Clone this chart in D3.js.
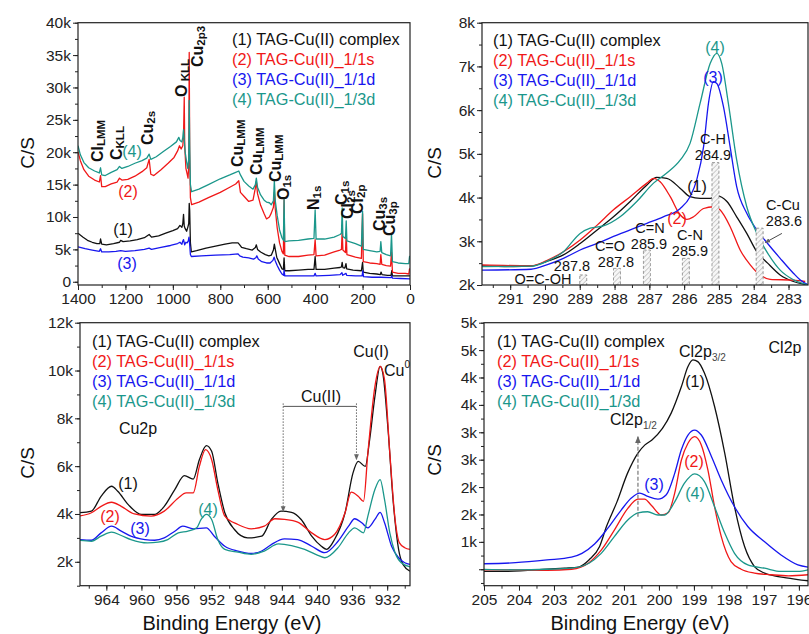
<!DOCTYPE html>
<html>
<head>
<meta charset="utf-8">
<script src="https://cdn.jsdelivr.net/npm/d3@7"></script>
<style>
  body { margin: 0; background: #fff; }
  svg text { font-family: "Liberation Sans", Arial, sans-serif; }
  .tick text { font-size: 15.5px; fill: #222; }
  .tick line, .frame { stroke: #222; }
</style>
</head>
<body>
<div id="wrapper"></div>
<script>
// ---- data: [binding energy (eV), counts per second] ----
const seriesNames = ["(1) TAG-Cu(II) complex", "(2) TAG-Cu(II)_1/1s", "(3) TAG-Cu(II)_1/1d", "(4) TAG-Cu(II)_1/3d"]
const seriesColors = ["#111111", "#f01818", "#1717ee", "#1b978b"]

const survey1 = [[1400,7500],[1380,6900],[1360,6400],[1340,6100],[1320,5900],[1308,5900],[1305,6600],[1300,5800],[1280,5700],[1250,5900],[1225,6100],[1220,6400],[1210,6200],[1180,6300],[1150,6500],[1120,6800],[1100,7300],[1090,6900],[1060,7100],[1030,7500],[1000,7900],[980,8200],[970,8700],[962,8400],[958,9000],[955,10400],[952,8600],[948,8200],[942,7800],[937,8400],[933,9000],[931,12100],[929,11000],[926,6000],[922,4600],[900,4800],[860,5200],[820,5500],[780,5800],[750,6000],[725,6000],[718,5700],[710,5300],[690,5100],[665,4900],[652,5300],[648,5700],[643,5000],[630,4600],[610,4200],[595,4000],[585,4100],[576,4900],[572,5800],[568,5000],[562,3800],[550,2800],[540,2000],[534,1900],[531,3700],[528,1700],[510,1700],[470,1800],[430,1900],[405,1900],[400,3900],[396,1900],[360,1900],[320,2100],[295,2200],[289,2300],[286,3000],[283,2200],[275,2100],[270,2800],[267,2000],[240,1800],[205,1700],[200,3000],[197,1500],[170,1300],[140,1200],[125,1100],[122,1500],[118,1100],[95,1000],[80,1000],[77,1700],[74,900],[40,900],[10,900],[0,900]]
const survey2 = [[1400,20100],[1390,18700],[1375,17300],[1355,16300],[1330,15700],[1310,15400],[1305,16400],[1300,14700],[1285,14700],[1260,15100],[1235,15400],[1225,16000],[1215,15700],[1190,15800],[1160,16300],[1130,17000],[1110,17600],[1100,18900],[1093,16600],[1080,16400],[1050,17300],[1020,18300],[995,19200],[980,20200],[972,21000],[965,20500],[958,21000],[955,22500],[952,28500],[950,21000],[945,17500],[940,16700],[936,16000],[933,18000],[931,35400],[929,20000],[926,13000],[921,11900],[890,12300],[850,13000],[800,13800],[760,14600],[735,15100],[722,15600],[715,13800],[700,13200],[680,12400],[662,12600],[652,14500],[648,15500],[643,13600],[630,11800],[615,10500],[605,9700],[593,10000],[585,10600],[576,11500],[572,13800],[568,11200],[560,8300],[550,6000],[540,4700],[534,4300],[531,12600],[528,4100],[510,3900],[470,3900],[430,4100],[405,4200],[400,6500],[396,4000],[360,4100],[320,4600],[295,4900],[289,5000],[286,8000],[283,4900],[272,4500],[269,7500],[266,4200],[230,3800],[205,3600],[200,10500],[197,3100],[170,2900],[140,2800],[126,2700],[123,4200],[119,2700],[100,2500],[82,2400],[78,4600],[74,1500],[50,1300],[20,1300],[5,1200],[2,2000],[0,2000]]
const survey3 = [[1400,5400],[1370,5100],[1340,4900],[1310,4700],[1305,5100],[1300,4600],[1270,4600],[1240,4700],[1220,4800],[1200,4700],[1160,4800],[1120,5000],[1100,5200],[1090,5000],[1050,5300],[1010,5600],[980,5900],[970,6100],[962,5800],[958,6300],[955,6500],[950,5700],[945,6100],[940,6000],[935,6300],[932,6900],[930,6200],[926,4200],[922,3900],[880,4000],[820,4100],[760,4200],[725,4300],[718,4000],[705,3800],[680,3700],[660,3500],[650,3700],[646,4000],[640,3500],[625,3100],[605,2900],[590,2900],[578,3300],[573,3800],[568,3200],[560,2500],[550,1800],[540,1200],[533,1000],[531,1800],[528,900],[500,900],[450,900],[405,900],[400,1300],[396,900],[340,1000],[295,1100],[287,1400],[284,1000],[270,1300],[267,1000],[230,900],[202,900],[199,1700],[196,800],[160,700],[125,700],[80,650],[77,900],[74,550],[40,500],[0,450]]
const survey4 = [[1400,21000],[1390,19600],[1375,18400],[1355,17600],[1330,17100],[1310,16800],[1305,17600],[1300,16500],[1285,16400],[1260,16900],[1235,17300],[1225,17800],[1215,17500],[1190,17800],[1160,18300],[1130,18700],[1110,19100],[1100,19700],[1093,18900],[1070,19300],[1040,20100],[1010,20900],[985,21600],[975,22300],[970,21800],[962,21600],[958,22300],[955,23500],[952,22000],[948,20000],[942,18500],[937,17500],[933,19000],[931,28000],[929,21000],[926,15000],[921,13900],[890,14300],[850,15000],[800,15900],[760,16500],[735,16900],[722,17100],[715,16500],[700,15500],[680,14800],[662,14300],[652,15000],[648,16000],[643,14600],[630,13400],[615,12600],[605,12300],[593,12200],[585,11900],[576,12500],[572,15600],[568,12500],[560,10200],[550,8000],[540,6800],[534,6400],[531,12700],[528,6200],[510,6300],[470,6400],[430,6600],[405,6700],[400,11100],[396,6600],[360,6600],[320,6900],[295,7300],[289,7500],[286,11400],[283,7000],[272,6700],[269,9400],[266,6300],[230,5900],[205,5500],[200,10900],[197,5000],[170,4800],[140,4600],[126,4700],[123,6200],[119,4500],[100,4200],[82,4000],[78,7400],[74,3100],[50,2900],[20,2800],[5,2800],[2,3900],[0,3900]]

const carbon1 = [[291.86,2440],[290.9,2420],[290.4,2430],[289.95,2540],[289.47,2690],[288.99,2950],[288.5,3260],[288.03,3560],[287.55,3910],[287.07,4290],[286.79,4460],[286.5,4440],[286.11,4210],[285.83,4020],[285.54,3980],[285.25,3980],[285.06,4040],[284.77,3910],[284.49,3560],[284.2,3180],[283.91,2760],[283.6,2500],[283.24,2230],[282.86,2080],[282.43,2000]]
const carbon2 = [[291.86,2460],[290.4,2440],[289.95,2560],[289.47,2760],[288.99,3030],[288.5,3370],[288.03,3720],[287.55,4020],[287.07,4330],[286.88,4440],[286.69,4360],[286.4,4020],[286.11,3600],[285.92,3500],[285.73,3560],[285.44,3750],[285.16,3790],[284.97,3720],[284.68,3340],[284.39,2800],[284.1,2460],[283.82,2230],[283.53,2130],[282.86,2110],[282.52,2080]]
const carbon3 = [[291.86,2340],[290.4,2360],[289.95,2460],[289.47,2610],[288.99,2800],[288.5,2950],[288.03,3110],[287.55,3260],[287.07,3410],[286.6,3560],[286.11,3750],[285.83,4020],[285.64,4400],[285.44,5170],[285.3,6160],[285.16,6650],[285.06,6610],[284.87,6080],[284.68,5170],[284.49,4250],[284.2,3640],[283.91,3260],[283.6,2950],[283.24,2610],[282.86,2270],[282.67,2120],[282.43,2000]]
const carbon4 = [[291.86,2420],[290.4,2430],[289.95,2540],[289.47,2760],[288.99,3180],[288.7,3300],[288.32,3350],[287.84,3560],[287.36,3910],[286.88,4330],[286.5,4560],[286.11,4860],[285.83,5240],[285.54,6160],[285.25,7070],[285.06,7300],[284.92,7070],[284.73,6160],[284.49,4860],[284.2,3790],[283.91,3180],[283.6,2730],[283.24,2340],[282.86,2120],[282.43,2000]]
// fitted component positions (eV) and heights (C/S) in the C1s panel
const carbonPeakEnergy = [288.9, 287.93, 287.07, 285.95, 285.1, 283.83]
const carbonPeakHeight = [2230, 2380, 2800, 2610, 4800, 3300]

const copper1 = [[967.2,4050],[965.7,4120],[964.6,4740],[963.4,5160],[962.7,4950],[961.5,4390],[960.0,3980],[958.5,3980],[957.4,4320],[956.2,5020],[955.1,5600],[954.1,5460],[953.4,6270],[952.6,6860],[952.0,6620],[951.3,5300],[950.5,4050],[949.4,3350],[947.9,3000],[946.3,3070],[945.2,3770],[944.1,4120],[942.9,4070],[941.8,3770],[940.6,3070],[939.5,2650],[938.9,2520],[938.0,2930],[936.8,4050],[935.9,5710],[935.3,6200],[934.5,5990],[934.0,7100],[933.4,8910],[932.8,10170],[932.5,9890],[931.9,7520],[931.3,4460],[930.7,2520],[930.2,1890],[929.4,1610]]
const copper2 = [[967.2,3910],[965.7,4050],[964.6,4320],[963.4,4490],[962.3,4320],[960.8,4000],[958.9,3910],[957.4,4120],[955.8,4670],[954.9,4880],[954.1,4880],[953.4,5990],[952.7,6690],[952.0,6270],[951.3,5020],[950.5,3910],[949.0,3560],[947.5,3380],[946.0,3490],[944.8,3800],[943.7,3770],[942.2,3660],[940.6,3210],[939.1,2930],[938.0,3140],[936.8,4050],[936.1,4910],[935.3,4740],[934.7,4530],[934.2,6550],[933.4,9330],[932.8,10170],[932.3,9610],[931.7,6550],[931.1,3770],[930.6,2790],[930.0,2590],[929.4,2520]]
const copper3 = [[967.2,2930],[965.7,2900],[964.6,3210],[963.4,3490],[962.3,3280],[961.2,3070],[959.6,2930],[958.5,2900],[957.4,3000],[956.2,3280],[955.3,3490],[954.1,3380],[952.6,3420],[951.7,3070],[950.5,2650],[949.0,2450],[947.5,2350],[946.3,2450],[945.2,2720],[943.7,2960],[942.2,2930],[940.6,2650],[939.1,2380],[937.6,2860],[936.4,3490],[935.7,3800],[934.9,3630],[934.2,3420],[933.4,3770],[932.8,4070],[932.3,3630],[931.5,2650],[930.7,2170],[930.0,1960],[929.4,1890]]
const copper4 = [[967.2,2900],[965.7,2860],[964.6,3070],[963.4,3240],[962.3,3100],[961.2,2930],[959.3,2790],[958.1,2820],[957.0,2930],[955.8,3210],[954.7,3280],[953.7,3420],[953.2,3770],[952.6,3980],[952.0,3770],[951.3,2930],[950.5,2520],[949.0,2400],[947.5,2310],[946.0,2450],[944.4,2750],[942.9,2680],[941.4,2520],[939.9,2270],[939.1,2170],[937.6,2590],[936.4,3210],[935.7,3420],[934.7,3210],[934.2,3910],[933.4,5020],[932.8,5440],[932.3,4600],[931.7,3210],[931.1,2380],[930.4,1960],[929.4,1790]]

const chlorine1 = [[205.08,460],[204.5,460],[203.2,500],[202.7,520],[202.3,540],[202.0,670],[201.7,910],[201.5,1280],[201.2,1730],[200.9,2250],[200.6,2620],[200.4,2770],[200.2,2860],[199.9,3070],[199.65,3350],[199.36,3830],[199.17,4200],[199.03,4320],[198.89,4290],[198.7,4080],[198.41,3470],[198.12,2620],[197.84,1640],[197.55,910],[197.27,550],[196.98,430],[196.7,380],[196.3,340],[195.93,300],[195.74,290]]
const chlorine2 = [[205.08,490],[204.1,490],[203.2,480],[202.5,500],[202.0,620],[201.65,850],[201.27,1220],[200.89,1610],[200.6,1780],[200.41,1780],[200.22,1670],[199.93,1490],[199.74,1530],[199.55,1890],[199.36,2490],[199.17,2800],[198.98,2920],[198.79,2770],[198.6,2310],[198.41,1640],[198.22,1100],[197.94,640],[197.65,500],[197.27,430],[196.8,400],[196.3,380],[195.74,400]]
const chlorine3 = [[205.08,600],[204.1,620],[203.2,670],[202.5,720],[202.2,790],[201.84,960],[201.46,1250],[201.08,1580],[200.79,1800],[200.55,1890],[200.32,1830],[200.03,1780],[199.79,1860],[199.55,2250],[199.36,2680],[199.17,2950],[198.98,3040],[198.79,2950],[198.5,2560],[198.22,2130],[197.84,1640],[197.46,1280],[196.98,1000],[196.51,760],[196.03,580],[195.74,540]]
const chlorine4 = [[205.08,500],[204.1,490],[203.2,500],[202.5,520],[202.0,610],[201.65,790],[201.27,1100],[200.89,1400],[200.6,1530],[200.32,1550],[200.03,1490],[199.84,1490],[199.55,1730],[199.27,2070],[198.98,2240],[198.7,2100],[198.41,1640],[198.12,1160],[197.84,790],[197.46,580],[196.98,520],[196.51,460],[196.03,460],[195.74,490]]

// ---- tick values and labels ----
const surveyXTicks = [1400, 1200, 1000, 800, 600, 400, 200, 0]
const surveyYTicks = [0, 5000, 10000, 15000, 20000, 25000, 30000, 35000, 40000]
const surveyYLabels = ["0", "5k", "10k", "15k", "20k", "25k", "30k", "35k", "40k"]
const carbonXTicks = [291, 290, 289, 288, 287, 286, 285, 284, 283]
const carbonYTicks = [2000, 3000, 4000, 5000, 6000, 7000, 8000]
const carbonYLabels = ["2k", "3k", "4k", "5k", "6k", "7k", "8k"]
const copperXTicks = [964, 960, 956, 952, 948, 944, 940, 936, 932]
const copperYTicks = [2000, 4000, 6000, 8000, 10000, 12000]
const copperYLabels = ["2k", "4k", "6k", "8k", "10k", "12k"]
const chlorineXTicks = [205, 204, 203, 202, 201, 200, 199, 198, 197, 196]
const chlorineYTicks = [500, 1000, 1500, 2000, 2500, 3000, 3500, 4000, 4500, 5000]
const chlorineYLabels = ["", "1k", "2k", "2k", "3k", "3k", "4k", "4k", "5k", "5k"]

const width = 809
const height = 634

const svg = d3.select("#wrapper").append("svg")
    .attr("width", width)
    .attr("height", height)
const defs = svg.append("defs")

const hatch = defs.append("pattern")
    .attr("id", "hatch")
    .attr("patternUnits", "userSpaceOnUse")
    .attr("width", 3.5).attr("height", 3.5)
    .attr("patternTransform", "rotate(45)")
hatch.append("rect").attr("width", 3.5).attr("height", 3.5).attr("fill", "#f6f6f6")
hatch.append("line").attr("x1", 0).attr("y1", 0).attr("x2", 0).attr("y2", 3.5)
    .attr("stroke", "#b5b5b5").attr("stroke-width", 1.3)

defs.append("marker")
    .attr("id", "arrow")
    .attr("viewBox", "0 0 10 10")
    .attr("refX", 9).attr("refY", 5)
    .attr("markerWidth", 6).attr("markerHeight", 6)
    .attr("orient", "auto-start-reverse")
  .append("path")
    .attr("d", "M0,1 L10,5 L0,9 z")
    .attr("fill", "#666")

function drawPanel(p) {
  const x = d3.scaleLinear().domain(p.xDomain).range([p.left, p.right])
  const y = d3.scaleLinear().domain(p.yDomain).range([p.bottom, p.top])

  defs.append("clipPath").attr("id", "clip-" + p.id)
    .append("rect")
      .attr("x", p.left).attr("y", p.top)
      .attr("width", p.right - p.left).attr("height", p.bottom - p.top)

  const plot = svg.append("g").attr("clip-path", `url(#clip-${p.id})`)
  const lineGenerator = d3.line()
    .x(d => x(d[0]))
    .y(d => y(d[1]))
    .curve(p.curve)
  plot.selectAll("path.spectrum")
    .data(p.series)
    .enter().append("path")
      .attr("class", "spectrum")
      .attr("d", lineGenerator)
      .attr("fill", "none")
      .attr("stroke", (d, i) => seriesColors[i])
      .attr("stroke-width", 1.3)
      .attr("stroke-linejoin", "round")

  // minor ticks first, then labelled ones
  svg.append("g")
      .attr("transform", `translate(0,${p.bottom})`)
      .call(d3.axisBottom(x).tickValues(p.xMinor).tickSize(3).tickFormat(""))
      .call(g => g.select(".domain").remove())
  svg.append("g")
      .attr("transform", `translate(0,${p.bottom})`)
      .call(d3.axisBottom(x).tickValues(p.xTicks).tickSize(5).tickPadding(3).tickFormat(d => d))
      .call(g => g.select(".domain").remove())
  svg.append("g")
      .attr("transform", `translate(${p.left},0)`)
      .call(d3.axisLeft(y).tickValues(p.yMinor).tickSize(3).tickFormat(""))
      .call(g => g.select(".domain").remove())
  svg.append("g")
      .attr("transform", `translate(${p.left},0)`)
      .call(d3.axisLeft(y).tickValues(p.yTicks).tickSize(5).tickPadding(2)
        .tickFormat((d, i) => p.yLabels[i]))
      .call(g => g.select(".domain").remove())

  svg.append("rect")
      .attr("class", "frame")
      .attr("x", p.left).attr("y", p.top)
      .attr("width", p.right - p.left).attr("height", p.bottom - p.top)
      .attr("fill", "none")
      .attr("stroke-width", 1.2)

  svg.append("text")
      .attr("transform", `translate(${p.titleX},${p.titleY}) rotate(-90)`)
      .attr("text-anchor", "middle")
      .attr("font-size", 19)
      .attr("fill", "#111")
      .text("C/S")

  svg.append("g").selectAll("text")
    .data(seriesNames)
    .enter().append("text")
      .attr("x", p.legendX)
      .attr("y", (d, i) => p.legendY + i * 20)
      .attr("font-size", 16.3)
      .attr("fill", (d, i) => seriesColors[i])
      .text(d => d)

  return { x, y, plot }
}

function note(txt, x, y, color, size) {
  return svg.append("text")
      .attr("x", x).attr("y", y)
      .attr("text-anchor", "middle")
      .attr("font-size", size || 16)
      .attr("fill", color || "#111")
      .text(txt)
}

// ---------- survey ----------
const survey = drawPanel({
  id: "survey", left: 78, right: 410, top: 22.7, bottom: 285,
  xDomain: [1400, 0], yDomain: [-500, 40000],
  xTicks: surveyXTicks, xMinor: d3.range(0, 1401, 100),
  yTicks: surveyYTicks, yLabels: surveyYLabels, yMinor: d3.range(0, 40001, 2500),
  series: [survey1, survey2, survey3, survey4], curve: d3.curveLinear,
  titleX: 34, titleY: 153, legendX: 232, legendY: 45,
})

const surveyPeaks = [
  ["Cl", "LMM", 103, 162], ["C", "KLL", 122, 160], ["Cu", "2s", 153, 145],
  ["O", " KLL", 187, 97], ["Cu", "2p3", 203, 67],
  ["Cu", "LMM", 243, 167], ["Cu", "LMM", 262, 175], ["Cu", "LMM", 281, 182],
  ["O", "1s", 289, 200], ["N", "1s", 319, 210], ["C", "1s", 347, 205],
  ["Cl", "2s", 353, 219], ["Cl", "2p", 363, 214], ["Cu", "3s", 385, 231], ["Cu", "3p", 395, 236],
]
surveyPeaks.forEach(([main, sub, px, py]) => {
  const t = svg.append("text")
      .attr("transform", `translate(${px},${py}) rotate(-90)`)
      .attr("font-weight", "bold")
      .attr("font-size", 16)
      .attr("fill", "#111")
  t.append("tspan").text(main)
  t.append("tspan").attr("font-size", 11.5).attr("dy", 2).text(sub)
})
note("(4)", 132, 157, seriesColors[3])
note("(2)", 128, 197, seriesColors[1])
note("(1)", 123, 235, seriesColors[0])
note("(3)", 127, 269, seriesColors[2])

// ---------- C1s ----------
const carbon = drawPanel({
  id: "carbon", left: 482, right: 808, top: 22.7, bottom: 285,
  xDomain: [291.81, 282.44], yDomain: [2000, 8000],
  xTicks: carbonXTicks, xMinor: d3.range(283, 292, 0.5),
  yTicks: carbonYTicks, yLabels: carbonYLabels, yMinor: d3.range(2000, 8001, 500),
  series: [carbon1, carbon2, carbon3, carbon4], curve: d3.curveMonotoneX,
  titleX: 441, titleY: 163, legendX: 493, legendY: 46,
})
carbon.plot.selectAll("rect.component")
  .data(carbonPeakEnergy)
  .enter().append("rect")
    .attr("class", "component")
    .attr("x", d => carbon.x(d + 0.1))
    .attr("width", d => carbon.x(d - 0.1) - carbon.x(d + 0.1))
    .attr("y", (d, i) => carbon.y(carbonPeakHeight[i]))
    .attr("height", (d, i) => carbon.y(2000) - carbon.y(carbonPeakHeight[i]))
    .attr("fill", "url(#hatch)")
    .attr("stroke", "#888")
    .attr("stroke-width", 0.8)
    .attr("stroke-dasharray", "3,2")
svg.append("line")
    .attr("x1", carbon.x(283.19)).attr("y1", carbon.y(3180))
    .attr("x2", carbon.x(283.67)).attr("y2", carbon.y(2970))
    .attr("stroke", "#333").attr("stroke-width", 0.9)
    .attr("marker-end", "url(#arrow)")
const cs = 14.5
note("(4)", 715, 53, seriesColors[3], 16)
note("(3)", 713, 83, seriesColors[2], 16)
note("C-H", 713, 144, null, cs)
note("284.9", 713, 160, null, cs)
note("(1)", 697, 192)
note("(2)", 677, 224, seriesColors[1])
note("C-Cu", 783, 210, null, cs)
note("283.6", 784, 226, null, cs)
note("C=N", 650, 233, null, cs)
note("285.9", 649, 249, null, cs)
note("C-N", 690, 240, null, cs)
note("285.9", 690, 256, null, cs)
note("C=O", 610, 251, null, cs)
note("287.8", 616, 267, null, cs)
note("287.8", 572, 271, null, cs)
note("O=C-OH", 543, 284, null, cs)

// ---------- Cu2p ----------
const copper = drawPanel({
  id: "copper", left: 80, right: 410, top: 322.7, bottom: 585.7,
  xDomain: [967, 929.4], yDomain: [1000, 12000],
  xTicks: copperXTicks, xMinor: d3.range(930, 967, 2),
  yTicks: copperYTicks, yLabels: copperYLabels, yMinor: d3.range(1000, 12001, 1000),
  series: [copper1, copper2, copper3, copper4], curve: d3.curveMonotoneX,
  titleX: 34, titleY: 463, legendX: 92, legendY: 347,
})
svg.append("line")
    .attr("x1", copper.x(943.85)).attr("x2", copper.x(935.5))
    .attr("y1", copper.y(8500)).attr("y2", copper.y(8500))
    .attr("stroke", "#555").attr("stroke-width", 1)
;[[943.85, 4100], [935.5, 6270]].forEach(([e, v]) => {
  svg.append("line")
      .attr("x1", copper.x(e)).attr("x2", copper.x(e))
      .attr("y1", copper.y(8500) - 3).attr("y2", copper.y(v))
      .attr("stroke", "#666").attr("stroke-width", 1)
      .attr("stroke-dasharray", "1.5,1.5")
      .attr("marker-end", "url(#arrow)")
})
note("Cu(I)", 371, 357)
const cu0 = svg.append("text").attr("x", 384).attr("y", 376).attr("font-size", 16).attr("fill", "#111")
cu0.append("tspan").text("Cu")
cu0.append("tspan").attr("font-size", 10).attr("dy", -8).text("0")
note("Cu(II)", 321, 402)
note("Cu2p", 138, 434)
note("(1)", 128, 489)
note("(2)", 110, 522, seriesColors[1])
note("(3)", 140, 534, seriesColors[2])
note("(4)", 208, 515, seriesColors[3])

// ---------- Cl2p ----------
const chlorine = drawPanel({
  id: "chlorine", left: 484, right: 808, top: 322.7, bottom: 585.7,
  xDomain: [205, 195.74], yDomain: [200, 5000],
  xTicks: chlorineXTicks, xMinor: d3.range(196, 205.01, 0.5),
  yTicks: chlorineYTicks, yLabels: chlorineYLabels, yMinor: d3.range(250, 5001, 250),
  series: [chlorine1, chlorine2, chlorine3, chlorine4], curve: d3.curveMonotoneX,
  titleX: 441, titleY: 460, legendX: 497, legendY: 347,
})
svg.append("line")
    .attr("x1", chlorine.x(200.6)).attr("x2", chlorine.x(200.6))
    .attr("y1", chlorine.y(1460)).attr("y2", chlorine.y(2920))
    .attr("stroke", "#777").attr("stroke-width", 1.2)
    .attr("stroke-dasharray", "4,2")
    .attr("marker-end", "url(#arrow)")
function spinLabel(x, y, sub) {
  const t = svg.append("text").attr("x", x).attr("y", y).attr("font-size", 16).attr("fill", "#111")
  t.append("tspan").text("Cl2p")
  t.append("tspan").attr("font-size", 10).attr("dy", 4).attr("fill", "#444").text(sub)
}
spinLabel(679, 357, "3/2")
spinLabel(610, 425, "1/2")
note("Cl2p", 785, 353)
note("(1)", 695, 387)
note("(3)", 654, 490, seriesColors[2])
note("(2)", 694, 467, seriesColors[1])
note("(4)", 695, 499, seriesColors[3])

;[232, 640].forEach(cx => {
  svg.append("text")
      .attr("x", cx).attr("y", 630)
      .attr("text-anchor", "middle")
      .attr("font-size", 20)
      .attr("fill", "#111")
      .text("Binding Energy (eV)")
})
</script>
</body>
</html>
